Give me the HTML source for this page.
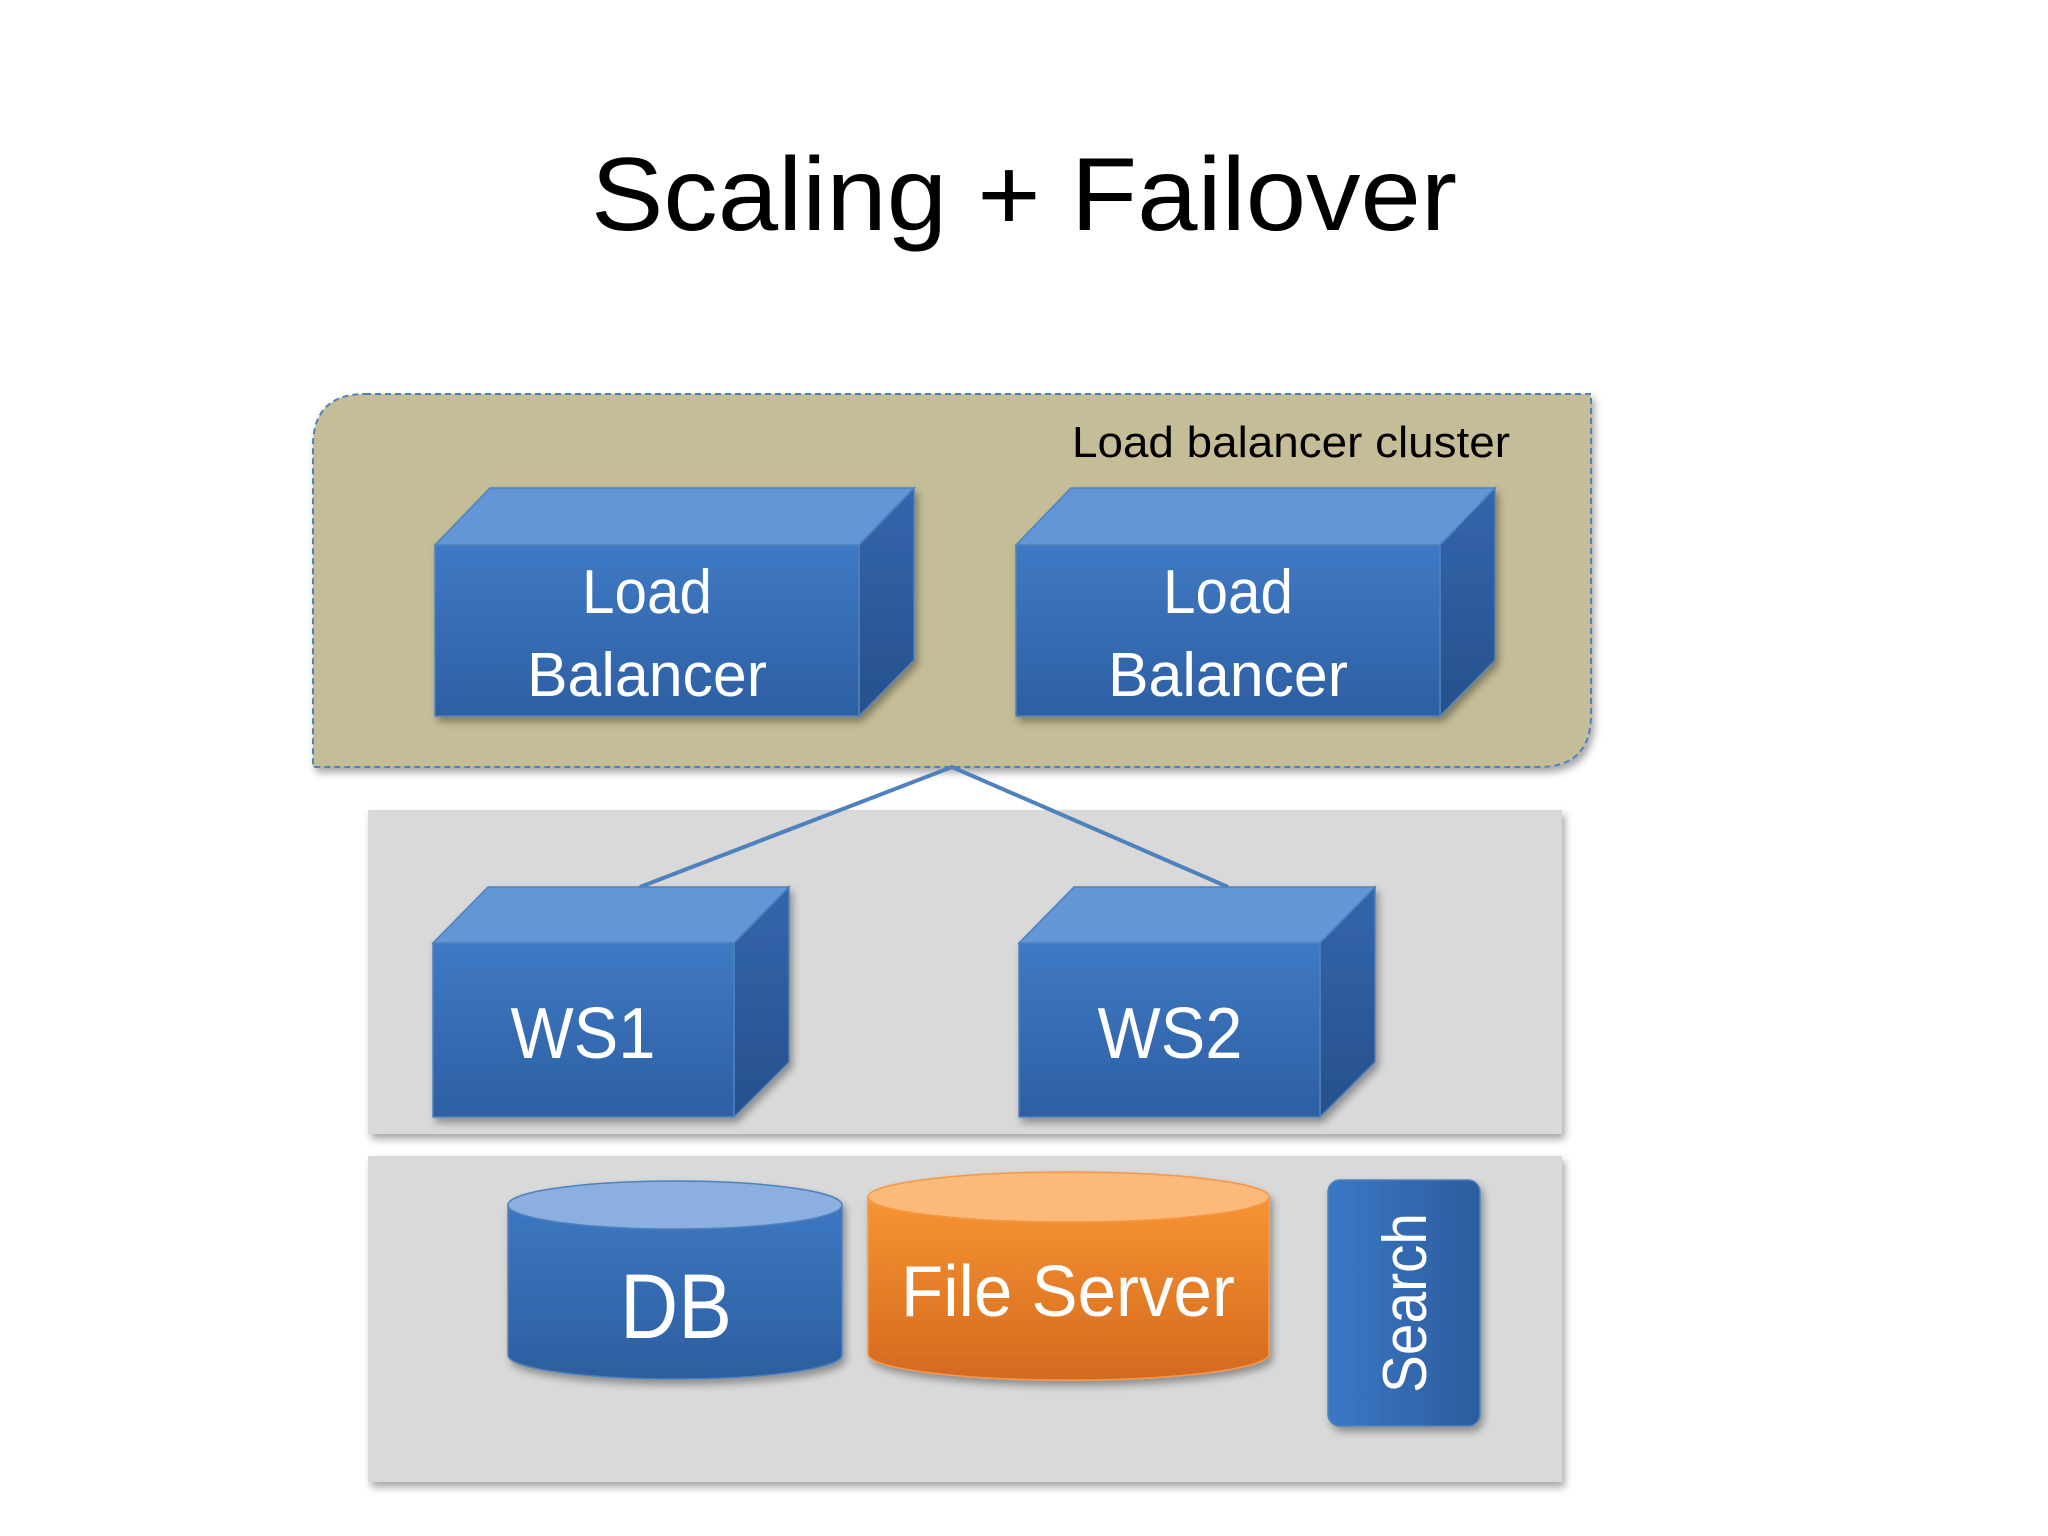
<!DOCTYPE html>
<html><head><meta charset="utf-8"><style>html,body{margin:0;padding:0;background:#fff}svg{display:block}</style></head>
<body>
<svg width="2048" height="1536" viewBox="0 0 2048 1536" xmlns="http://www.w3.org/2000/svg" font-family="'Liberation Sans', sans-serif">
<defs>
<linearGradient id="front" x1="0" y1="0" x2="0" y2="1"><stop offset="0" stop-color="#3f79c4"/><stop offset="1" stop-color="#2d5fa3"/></linearGradient>
<linearGradient id="side" x1="0" y1="0" x2="0" y2="1"><stop offset="0" stop-color="#3366ad"/><stop offset="1" stop-color="#26508c"/></linearGradient>
<linearGradient id="cylB" x1="0" y1="0" x2="0" y2="1"><stop offset="0" stop-color="#3d77c2"/><stop offset="1" stop-color="#2c5e9f"/></linearGradient>
<linearGradient id="cylO" x1="0" y1="0" x2="0" y2="1"><stop offset="0" stop-color="#f79432"/><stop offset="1" stop-color="#d4691f"/></linearGradient>
<linearGradient id="srch" x1="0" y1="0" x2="1" y2="0"><stop offset="0" stop-color="#3a78c6"/><stop offset="1" stop-color="#2c5c9c"/></linearGradient>
<filter id="sh" x="-10%" y="-10%" width="125%" height="130%"><feDropShadow dx="3" dy="5" stdDeviation="4" flood-color="#000" flood-opacity="0.35"/></filter>
</defs>
<text x="1024" y="230" text-anchor="middle" font-size="104" fill="#000" textLength="866" lengthAdjust="spacingAndGlyphs">Scaling + Failover</text>

<path d="M365 394 H1591 V715 Q1591 767 1539 767 H313 V446 Q313 394 365 394 Z" fill="#c4bd97" stroke="#4f81bd" stroke-width="2" stroke-dasharray="6,4" filter="url(#sh)"/>
<text x="1510" y="457" text-anchor="end" font-size="44" fill="#000" textLength="438" lengthAdjust="spacingAndGlyphs">Load balancer cluster</text>

<rect x="368" y="810" width="1194" height="324" fill="#d9d9d9" filter="url(#sh)"/>
<rect x="368" y="1156" width="1194" height="326" fill="#d9d9d9" filter="url(#sh)"/>

<g stroke="#4f81bd" stroke-width="1.5">
<g filter="url(#sh)">
<polygon points="435,545 490,488 914,488 859,545" fill="#6396d6"/>
<polygon points="859,545 914,488 914,660 859,716" fill="url(#side)"/>
<rect x="435" y="545" width="424" height="171" fill="url(#front)"/>
</g>
<g filter="url(#sh)">
<polygon points="1016,545 1071,488 1495,488 1440,545" fill="#6396d6"/>
<polygon points="1440,545 1495,488 1495,660 1440,716" fill="url(#side)"/>
<rect x="1016" y="545" width="424" height="171" fill="url(#front)"/>
</g>
<g filter="url(#sh)">
<polygon points="433,943 488,887 789,887 734,943" fill="#6396d6"/>
<polygon points="734,943 789,887 789,1062 734,1117" fill="url(#side)"/>
<rect x="433" y="943" width="301" height="174" fill="url(#front)"/>
</g>
<g filter="url(#sh)">
<polygon points="1019,943 1074,887 1375,887 1320,943" fill="#6396d6"/>
<polygon points="1320,943 1375,887 1375,1062 1320,1117" fill="url(#side)"/>
<rect x="1019" y="943" width="301" height="174" fill="url(#front)"/>
</g>
</g>
<polyline points="640,887 952,767 1228,887" fill="none" stroke="#4f81bd" stroke-width="4"/>

<g fill="#fff" text-anchor="middle">
<text x="647" y="613" font-size="62" textLength="130" lengthAdjust="spacingAndGlyphs">Load</text>
<text x="647" y="696" font-size="62" textLength="240" lengthAdjust="spacingAndGlyphs">Balancer</text>
<text x="1228" y="613" font-size="62" textLength="130" lengthAdjust="spacingAndGlyphs">Load</text>
<text x="1228" y="696" font-size="62" textLength="240" lengthAdjust="spacingAndGlyphs">Balancer</text>
<text x="583" y="1058" font-size="72" textLength="145" lengthAdjust="spacingAndGlyphs">WS1</text>
<text x="1170" y="1058" font-size="72" textLength="145" lengthAdjust="spacingAndGlyphs">WS2</text>
</g>

<g filter="url(#sh)">
<path d="M508 1205 V1355 A167 24 0 0 0 842 1355 V1205 Z" fill="url(#cylB)" stroke="#4f81bd" stroke-width="1.5"/>
<ellipse cx="675" cy="1205" rx="167" ry="24" fill="#8aafe0" stroke="#4f81bd" stroke-width="1.5"/>
</g>
<g filter="url(#sh)">
<path d="M868 1197 V1354 A200 26 0 0 0 1269 1354 V1197 Z" fill="url(#cylO)" stroke="#f79646" stroke-width="1.5"/>
<ellipse cx="1068.5" cy="1197" rx="200.5" ry="25" fill="#fbb97a" stroke="#f79646" stroke-width="1.5"/>
</g>
<rect x="1328" y="1180" width="152" height="246" rx="12" fill="url(#srch)" stroke="#4f81bd" stroke-width="1.5" filter="url(#sh)"/>

<g fill="#fff" text-anchor="middle">
<text x="676" y="1338" font-size="92" textLength="112" lengthAdjust="spacingAndGlyphs">DB</text>
<text x="1068" y="1316" font-size="72" textLength="334" lengthAdjust="spacingAndGlyphs">File Server</text>
<text transform="translate(1426,1303) rotate(-90)" x="0" y="0" font-size="62" textLength="180" lengthAdjust="spacingAndGlyphs">Search</text>
</g>
</svg>
</body></html>
